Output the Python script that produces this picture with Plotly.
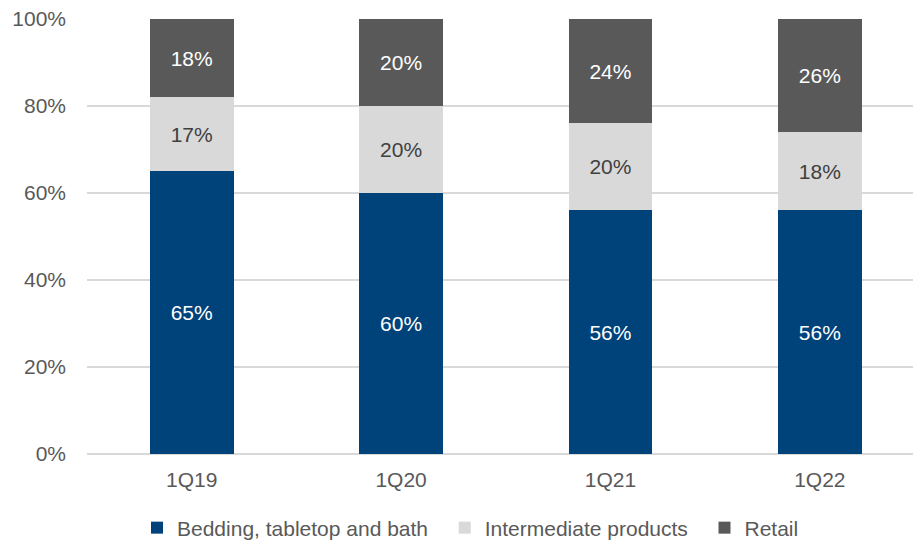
import plotly.graph_objects as go

quarters = ["1Q19", "1Q20", "1Q21", "1Q22"]
bedding = [65, 60, 56, 56]
intermediate = [17, 20, 20, 18]
retail = [18, 20, 24, 26]

# trailing no-break spaces widen the gap between horizontal legend entries
PAD = "\u00a0\u00a0"
series = [
    ("Bedding, tabletop and bath" + PAD, bedding, "#00427A", "#FFFFFF"),
    ("Intermediate products" + PAD, intermediate, "#D9D9D9", "#404040"),
    ("Retail", retail, "#595959", "#FFFFFF"),
]

FONT = "Liberation Sans, Arial, sans-serif"
TEXT_GREY = "#595959"
FS = 21

fig = go.Figure()
for name, vals, color, tcolor in series:
    fig.add_trace(go.Bar(
        name=name,
        x=quarters,
        y=vals,
        width=0.4,
        marker=dict(color=color, line=dict(width=0)),
        text=[f"{v}%" for v in vals],
        textposition="inside",
        insidetextanchor="middle",
        textangle=0,
        textfont=dict(family=FONT, size=FS, color=tcolor),
        hoverinfo="skip",
    ))

fig.update_layout(
    barmode="stack",
    width=913,
    height=542,
    margin=dict(l=87, r=0, t=19, b=88, autoexpand=False),
    paper_bgcolor="white",
    plot_bgcolor="white",
    font=dict(family=FONT, size=FS, color=TEXT_GREY),
    uniformtext=dict(mode=False),
    xaxis=dict(
        range=[-0.5, 3.445],
        showgrid=False,
        showline=False,
        ticks="",
        ticklabelstandoff=11,
        tickfont=dict(family=FONT, size=FS, color=TEXT_GREY),
    ),
    yaxis=dict(
        range=[0, 100],
        dtick=20,
        ticksuffix="%",
        showgrid=True,
        gridcolor="#D9D9D9",
        gridwidth=1.5,
        zeroline=True,
        zerolinecolor="#D9D9D9",
        zerolinewidth=1.5,
        showline=False,
        ticks="",
        ticklabelstandoff=20,
        tickfont=dict(family=FONT, size=FS, color=TEXT_GREY),
    ),
    legend=dict(
        orientation="h",
        xref="container",
        yref="container",
        x=137 / 913,
        xanchor="left",
        y=1 - 528 / 542,
        yanchor="middle",
        font=dict(family=FONT, size=FS, color=TEXT_GREY),
        itemwidth=30,
        traceorder="normal",
    ),
    bargap=0.6,
)

fig.write_html("out.html")
